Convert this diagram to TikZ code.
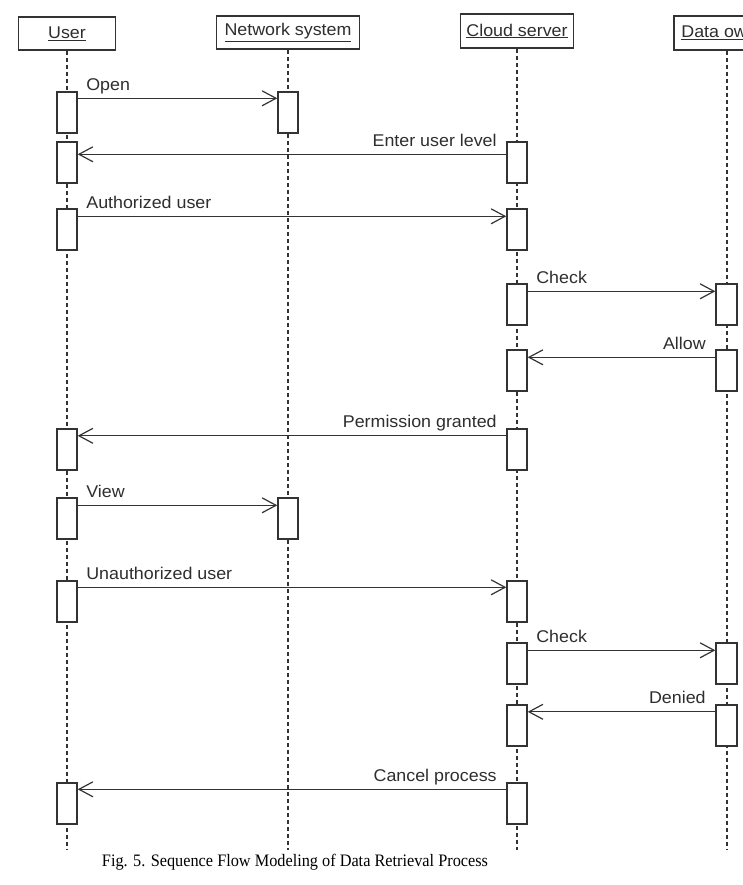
\documentclass[tikz,border=0pt]{standalone}
\usepackage{fontspec}
\setmainfont{Liberation Sans}
\newfontfamily\labfont[FakeStretch=1.05]{Liberation Sans}
\newfontfamily\capfont[FakeStretch=0.93]{Liberation Serif}
\usetikzlibrary{arrows.meta}
\definecolor{ink}{HTML}{2E2E2E}
\definecolor{edge}{HTML}{333333}
\begin{document}
\begin{tikzpicture}[x=1pt,y=-1pt,
  txt/.style={font=\labfont\fontsize{17}{19}\selectfont, text=ink},
  hdr/.style={txt, draw=edge, line width=1.6pt, fill=white, minimum height=33pt, inner sep=0pt},
  act/.style={draw=edge, line width=1.4pt, fill=white, minimum width=20pt, minimum height=41pt, inner sep=0pt},
  life/.style={draw=edge, line width=1.3pt, dash pattern=on 4pt off 3pt},
  msg/.style={draw=edge, line width=1.3pt, -{Straight Barb[length=14pt,width=15pt,line width=1.2pt]}},
  lblR/.style={txt, at start, anchor=base west, xshift=8pt, yshift=8pt, inner sep=0pt},
  lblL/.style={txt, at start, anchor=base east, xshift=-9pt, yshift=8pt, inner sep=0pt},
]
\useasboundingbox (0,0) rectangle (743,885);
\clip (0,0) rectangle (743,885);
\fill[white] (0,0) rectangle (743,885);

% headers
\node[hdr, minimum width=97pt]  (U) at (67,33.5)  {\underline{User}};
\node[hdr, minimum width=143pt] (N) at (288,32.5) {\underline{Network system}};
\node[hdr, minimum width=113pt, minimum height=34pt] (C) at (517,31) {\underline{Cloud server}};
\node[hdr, minimum width=106pt, minimum height=34pt] (D) at (727,33) {\underline{Data owner}};

% lifelines
\coordinate (bot) at (0,850);
\draw[life] (U.south) -- (U.south |- bot);
\draw[life] (N.south) -- (N.south |- bot);
\draw[life] (C.south) -- (C.south |- bot);
\draw[life] (D.south) -- (D.south |- bot);

% activation boxes
\node[act] (u1)  at (67,112.5) {};
\node[act] (u2)  at (67,162.5) {};
\node[act] (u3)  at (67,229.5) {};
\node[act] (u6)  at (67,449.5) {};
\node[act] (u7)  at (67,518.5) {};
\node[act] (u8)  at (67,601.5) {};
\node[act] (u11) at (67,803.5) {};

\node[act] (n1)  at (288,112.5) {};
\node[act] (n7)  at (288,518.5) {};

\node[act] (c2)  at (517,162.5) {};
\node[act] (c3)  at (517,229.5) {};
\node[act] (c4)  at (517,304.5) {};
\node[act] (c5)  at (517,370.5) {};
\node[act] (c6)  at (517,449.5) {};
\node[act] (c8)  at (517,601.5) {};
\node[act] (c9)  at (517,663.5) {};
\node[act] (c10) at (517,725.5) {};
\node[act] (c11) at (517,803.5) {};

\node[act, minimum width=21pt] (d4)  at (726.5,304.5) {};
\node[act, minimum width=21pt] (d5)  at (726.5,370.5) {};
\node[act, minimum width=21pt] (d9)  at (726.5,663.5) {};
\node[act, minimum width=21pt] (d10) at (726.5,725.5) {};

% messages
\draw[msg] ([yshift=-7pt]u1.north east) -- node[lblR] {Open} ([yshift=-7pt]n1.north west);
\draw[msg] ([yshift=-13pt]c2.north west) -- node[lblL] {Enter user level} ([yshift=-13pt]u2.north east);
\draw[msg] ([yshift=-8pt]u3.north east) -- node[lblR] {Authorized user} ([yshift=-8pt]c3.north west);
\draw[msg] ([yshift=-8pt]c4.north east) -- node[lblR] {Check} ([yshift=-8pt]d4.north west);
\draw[msg] ([yshift=-8pt]d5.north west) -- node[lblL] {Allow} ([yshift=-8pt]c5.north east);
\draw[msg] ([yshift=-7.5pt]c6.north west) -- node[lblL] {Permission granted} ([yshift=-7.5pt]u6.north east);
\draw[msg] ([yshift=-8pt]u7.north east) -- node[lblR] {View} ([yshift=-8pt]n7.north west);
\draw[msg] ([yshift=-7pt]u8.north east) -- node[lblR] {Unauthorized user} ([yshift=-7pt]c8.north west);
\draw[msg] ([yshift=-8pt]c9.north east) -- node[lblR] {Check} ([yshift=-8pt]d9.north west);
\draw[msg] ([yshift=-7.5pt]d10.north west) -- node[lblL] {Denied} ([yshift=-7.5pt]c10.north east);
\draw[msg] ([yshift=-7pt]c11.north west) -- node[lblL] {Cancel process} ([yshift=-7pt]u11.north east);

% caption
\node[font=\capfont\fontsize{17.5}{21}\selectfont, text=black, anchor=base, inner sep=0pt] (cap) at (295,866) {Fig. 5. Sequence Flow Modeling of Data Retrieval Process};
\end{tikzpicture}
\end{document}
